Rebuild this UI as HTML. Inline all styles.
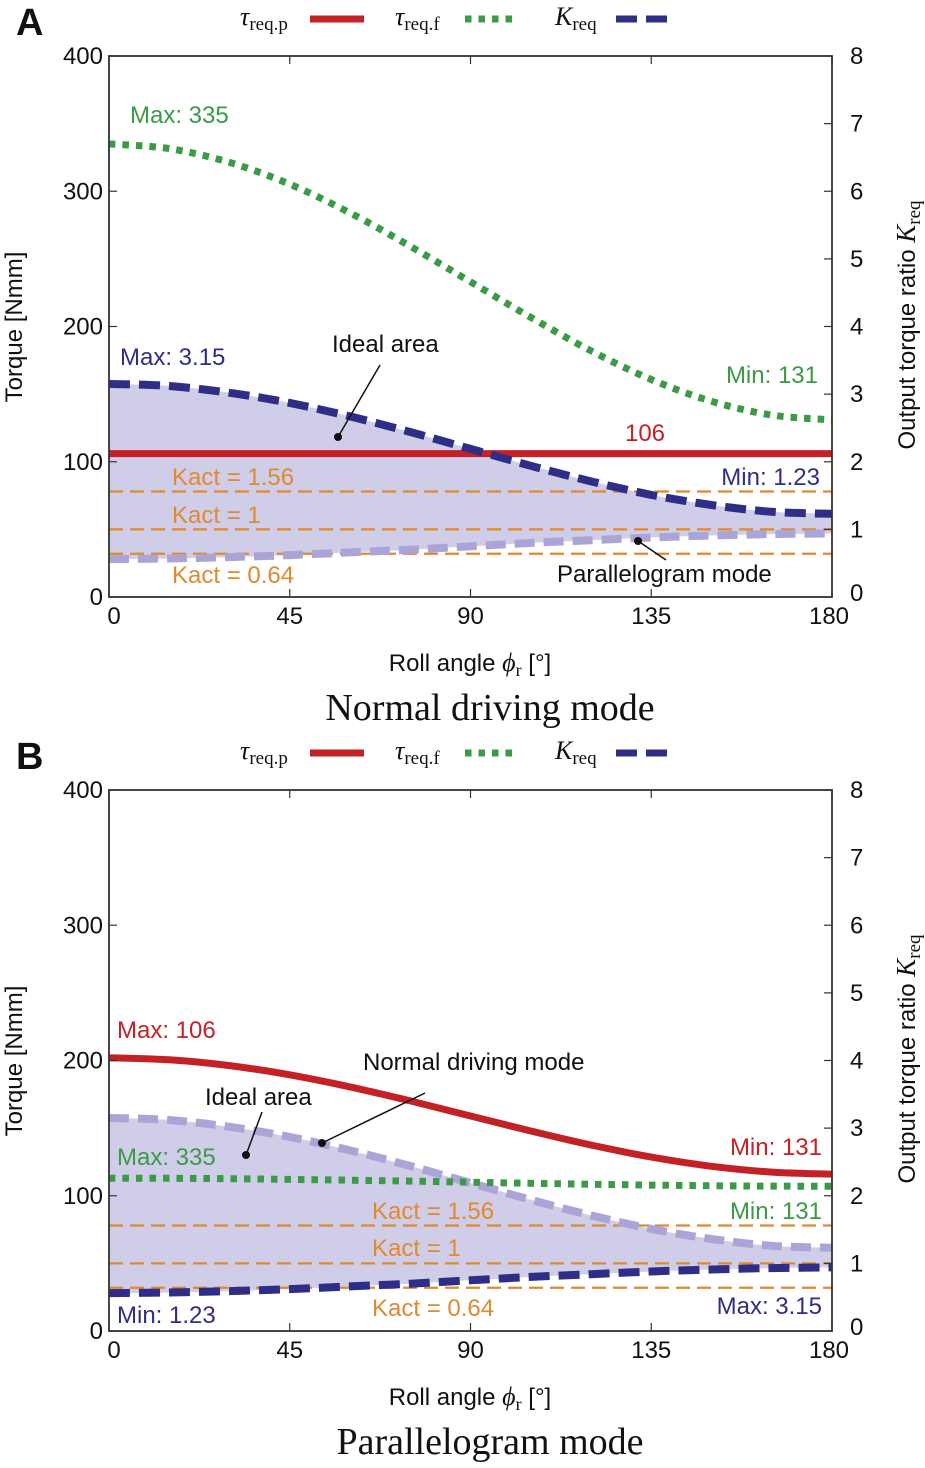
<!DOCTYPE html>
<html><head><meta charset="utf-8"><style>
html,body{margin:0;padding:0;background:#fff;}
svg text{font-family:"Liberation Sans",sans-serif;}
.serif{font-family:"Liberation Serif",serif;}
</style></head><body>
<svg id="fig" width="925" height="1463" viewBox="0 0 925 1463" xmlns="http://www.w3.org/2000/svg"></svg>
<script>
const angles=[0,15,30,45,60,75,90,105,120,135,150,165,180];
const xTicks=[0,45,90,135,180];
const yTicks=[0,100,200,300,400];
const kTicks=[0,1,2,3,4,5,6,7,8];
const kactLevels=[1.56,1,0.64];
// Panel A
const aTauP=[106,106,106,106,106,106,106,106,106,106,106,106,106];
const aTauF=[335,331.5,321.3,305.2,284,259.3,233,206.7,182,160.8,144.7,134.5,131];
const aKreq=[3.15,3.12,3.02,2.87,2.67,2.44,2.19,1.94,1.71,1.51,1.36,1.26,1.23];
const aKpar=[0.56,0.57,0.59,0.62,0.66,0.70,0.75,0.80,0.84,0.88,0.91,0.93,0.94];
// Panel B
const bTauP=[202,200.5,196.2,189.4,180.5,170.1,159,147.9,137.5,128.6,121.8,117.5,116];
const bTauF=[113,112.9,112.6,112.1,111.5,110.8,110,109.2,108.5,107.9,107.4,107.1,107];
const bKreq=[0.56,0.57,0.59,0.62,0.66,0.70,0.75,0.80,0.84,0.88,0.91,0.93,0.94];
const bKnorm=[3.15,3.12,3.02,2.87,2.67,2.44,2.19,1.94,1.71,1.51,1.36,1.26,1.23];

const svg=document.getElementById('fig');
const NS='http://www.w3.org/2000/svg';
function mk(tag,attrs,parent){const e=document.createElementNS(NS,tag);for(const k in attrs)e.setAttribute(k,attrs[k]);(parent||svg).appendChild(e);return e;}
function txt(s,x,y,size,fill,anchor,parent,cls){const t=mk('text',{x:x,y:y,'font-size':size,fill:fill,'text-anchor':anchor||'start'},parent);if(cls)t.setAttribute('class',cls);t.innerHTML=s;return t;}
function smooth(P){let d='M'+P[0][0].toFixed(1)+','+P[0][1].toFixed(1);for(let i=0;i<P.length-1;i++){const p0=P[i-1]||P[i],p1=P[i],p2=P[i+1],p3=P[i+2]||P[i+1];const c1=[p1[0]+(p2[0]-p0[0])/6,p1[1]+(p2[1]-p0[1])/6],c2=[p2[0]-(p3[0]-p1[0])/6,p2[1]-(p3[1]-p1[1])/6];d+=' C'+c1[0].toFixed(1)+','+c1[1].toFixed(1)+' '+c2[0].toFixed(1)+','+c2[1].toFixed(1)+' '+p2[0].toFixed(1)+','+p2[1].toFixed(1);}return d;}

const L=109,R=832;
function panel(top,bot,d,name){
  const g=mk('g',{});
  
  
  const sx=v=>L+(R-L)*v/180;
  const sy=v=>bot-(bot-top)*v/400;
  const sk=v=>sy(v*50);
  const P=(arr,f)=>arr.map((v,i)=>[sx(angles[i]),f(v)]);
  const up=P(d.upper,sk), lo=P(d.lower,sk).reverse();
  const fd=smooth(up)+' L'+smooth(lo).slice(1)+' Z';
  const fill=mk('path',{d:fd,fill:'#d0cde8'},g);
  
  
  kactLevels.forEach(k=>{
    const l=mk('line',{x1:L,x2:R,y1:sk(k),y2:sk(k),stroke:'#e0892e','stroke-width':2.2,'stroke-dasharray':'14,7'},g);
    
    
  });
  d.series.forEach(s=>{
    const f=s.k?sk:sy;
    const p=mk('path',{d:smooth(P(s.data,f)),fill:'none',stroke:s.color,'stroke-width':s.w,'stroke-dasharray':s.dash||'none'},g);
    
    
  });
  const fr=mk('rect',{x:L,y:top,width:R-L,height:bot-top,fill:'none',stroke:'#333','stroke-width':1.8},g);
  
  
  xTicks.forEach(v=>{
    mk('line',{x1:sx(v),x2:sx(v),y1:bot,y2:bot-8,stroke:'#333','stroke-width':1.2},g);
    mk('line',{x1:sx(v),x2:sx(v),y1:top,y2:top+8,stroke:'#333','stroke-width':1.2},g);
    const t=txt(v,sx(v)+(v==0?5:v==180?-3:0),bot+27,24,'#111','middle',g);
    
    
  });
  yTicks.forEach(v=>{
    mk('line',{x1:L,x2:L+8,y1:sy(v),y2:sy(v),stroke:'#333','stroke-width':1.2},g);
    const t=txt(v,L-6,sy(v)+8,24,'#111','end',g);
    
    
  });
  kTicks.forEach(v=>{
    mk('line',{x1:R,x2:R-8,y1:sk(v),y2:sk(v),stroke:'#333','stroke-width':1.2},g);
    const t=txt(v,850,sk(v)+8+(v==0?-4:0),24,'#111','start',g);
    
    
  });
  return {g,sx,sy,sk};
}
function legend(y){
  const g=mk('g',{});
  
  
  txt('<tspan font-style="italic">τ</tspan><tspan font-size="19" dy="5">req.p</tspan>',240,y,26,'#111','start',g,'serif');
  mk('line',{x1:310,x2:364,y1:y-6,y2:y-6,stroke:'#c42127','stroke-width':7},g);
  txt('<tspan font-style="italic">τ</tspan><tspan font-size="19" dy="5">req.f</tspan>',395,y,26,'#111','start',g,'serif');
  mk('line',{x1:465,x2:517,y1:y-6,y2:y-6,stroke:'#3a9a45','stroke-width':7,'stroke-dasharray':'6.5,7'},g);
  txt('<tspan font-style="italic">K</tspan><tspan font-size="19" dy="5">req</tspan>',555,y,26,'#111','start',g,'serif');
  mk('line',{x1:616,x2:667,y1:y-6,y2:y-6,stroke:'#2e2e86','stroke-width':7,'stroke-dasharray':'21,9'},g);
}
function axisTitles(bot,titleY,title){
  const t1=txt('Roll angle <tspan class="serif" font-style="italic" font-size="26">ϕ</tspan><tspan class="serif" font-size="18" dy="5">r</tspan><tspan dy="-5"> [°]</tspan>',470,bot+74,24,'#111','middle');
  
  const t2=txt('Torque [Nmm]',0,0,24,'#111','middle');
  t2.setAttribute('transform','translate(22,'+(bot-270)+') rotate(-90)');
  
  const t3=txt('Output torque ratio <tspan class="serif" font-style="italic" font-size="27">K</tspan><tspan class="serif" font-size="19" dy="5">req</tspan>',0,0,24,'#111','middle');
  t3.setAttribute('transform','translate(915,'+(bot-272)+') rotate(-90)');
  
  const t4=txt(title,490,titleY,38,'#111','middle',null,'serif');
  
}
function ann(g,x1,y1,x2,y2){mk('line',{x1:x1,y1:y1,x2:x2,y2:y2,stroke:'#111','stroke-width':1.5},g);mk('circle',{cx:x2,cy:y2,r:4,fill:'#111'},g);}

const RED='#c42127',GRN='#3a9a45',BLU='#2e2e86',LBL='#aaa5d6',ORG='#e0892e';
legend(25);
const pA=panel(56,597,{upper:aKreq,lower:aKpar,series:[
 {data:aKpar,k:true,color:LBL,w:8,dash:'20,9',name:'kreq-parallelogram-curve'},
 {data:aTauP,color:RED,w:7,name:'tau-req-p-line'},
 {data:aTauF,color:GRN,w:7,dash:'6.5,7',name:'tau-req-f-line'},
 {data:aKreq,k:true,color:BLU,w:8,dash:'21,9',name:'kreq-line'}]},'panel-a');
txt('A',16,35,38,'#111','start').setAttribute('font-weight','bold');
txt('Max: 335',130,123,24,GRN,'start',pA.g);
txt('Min: 131',818,383,24,GRN,'end',pA.g);
txt('Max: 3.15',120,365,24,BLU,'start',pA.g);
txt('Min: 1.23',820,485,24,BLU,'end',pA.g);
txt('106',645,441,24,RED,'middle',pA.g);
txt('Kact = 1.56',172,485,24,ORG,'start',pA.g);
txt('Kact = 1',172,523,24,ORG,'start',pA.g);
txt('Kact = 0.64',172,583,24,ORG,'start',pA.g);
txt('Ideal area',332,352,24,'#111','start',pA.g);
ann(pA.g,380,365,338,437);
txt('Parallelogram mode',557,582,24,'#111','start',pA.g);
ann(pA.g,666,560,638,541);
axisTitles(597,720,'Normal driving mode');

legend(759);
const pB=panel(790,1331,{upper:bKnorm,lower:bKreq,series:[
 {data:bKnorm,k:true,color:LBL,w:8,dash:'20,9',name:'kreq-normal-curve'},
 {data:bTauP,color:RED,w:7,name:'tau-req-p-line'},
 {data:bTauF,color:GRN,w:7,dash:'6.5,7',name:'tau-req-f-line'},
 {data:bKreq,k:true,color:BLU,w:8,dash:'21,9',name:'kreq-line'}]},'panel-b');
txt('B',16,769,38,'#111','start').setAttribute('font-weight','bold');
txt('Max: 106',117,1038,24,RED,'start',pB.g);
txt('Min: 131',822,1155,24,RED,'end',pB.g);
txt('Max: 335',117,1165,24,GRN,'start',pB.g);
txt('Min: 131',822,1219,24,GRN,'end',pB.g);
txt('Min: 1.23',117,1323,24,BLU,'start',pB.g);
txt('Max: 3.15',822,1314,24,BLU,'end',pB.g);
txt('Kact = 1.56',372,1219,24,ORG,'start',pB.g);
txt('Kact = 1',372,1256,24,ORG,'start',pB.g);
txt('Kact = 0.64',372,1316,24,ORG,'start',pB.g);
txt('Normal driving mode',363,1070,24,'#111','start',pB.g);
ann(pB.g,425,1093,322,1143);
txt('Ideal area',205,1105,24,'#111','start',pB.g);
ann(pB.g,262,1112,246,1155);
axisTitles(1331,1454,'Parallelogram mode');
</script>
</body></html>
